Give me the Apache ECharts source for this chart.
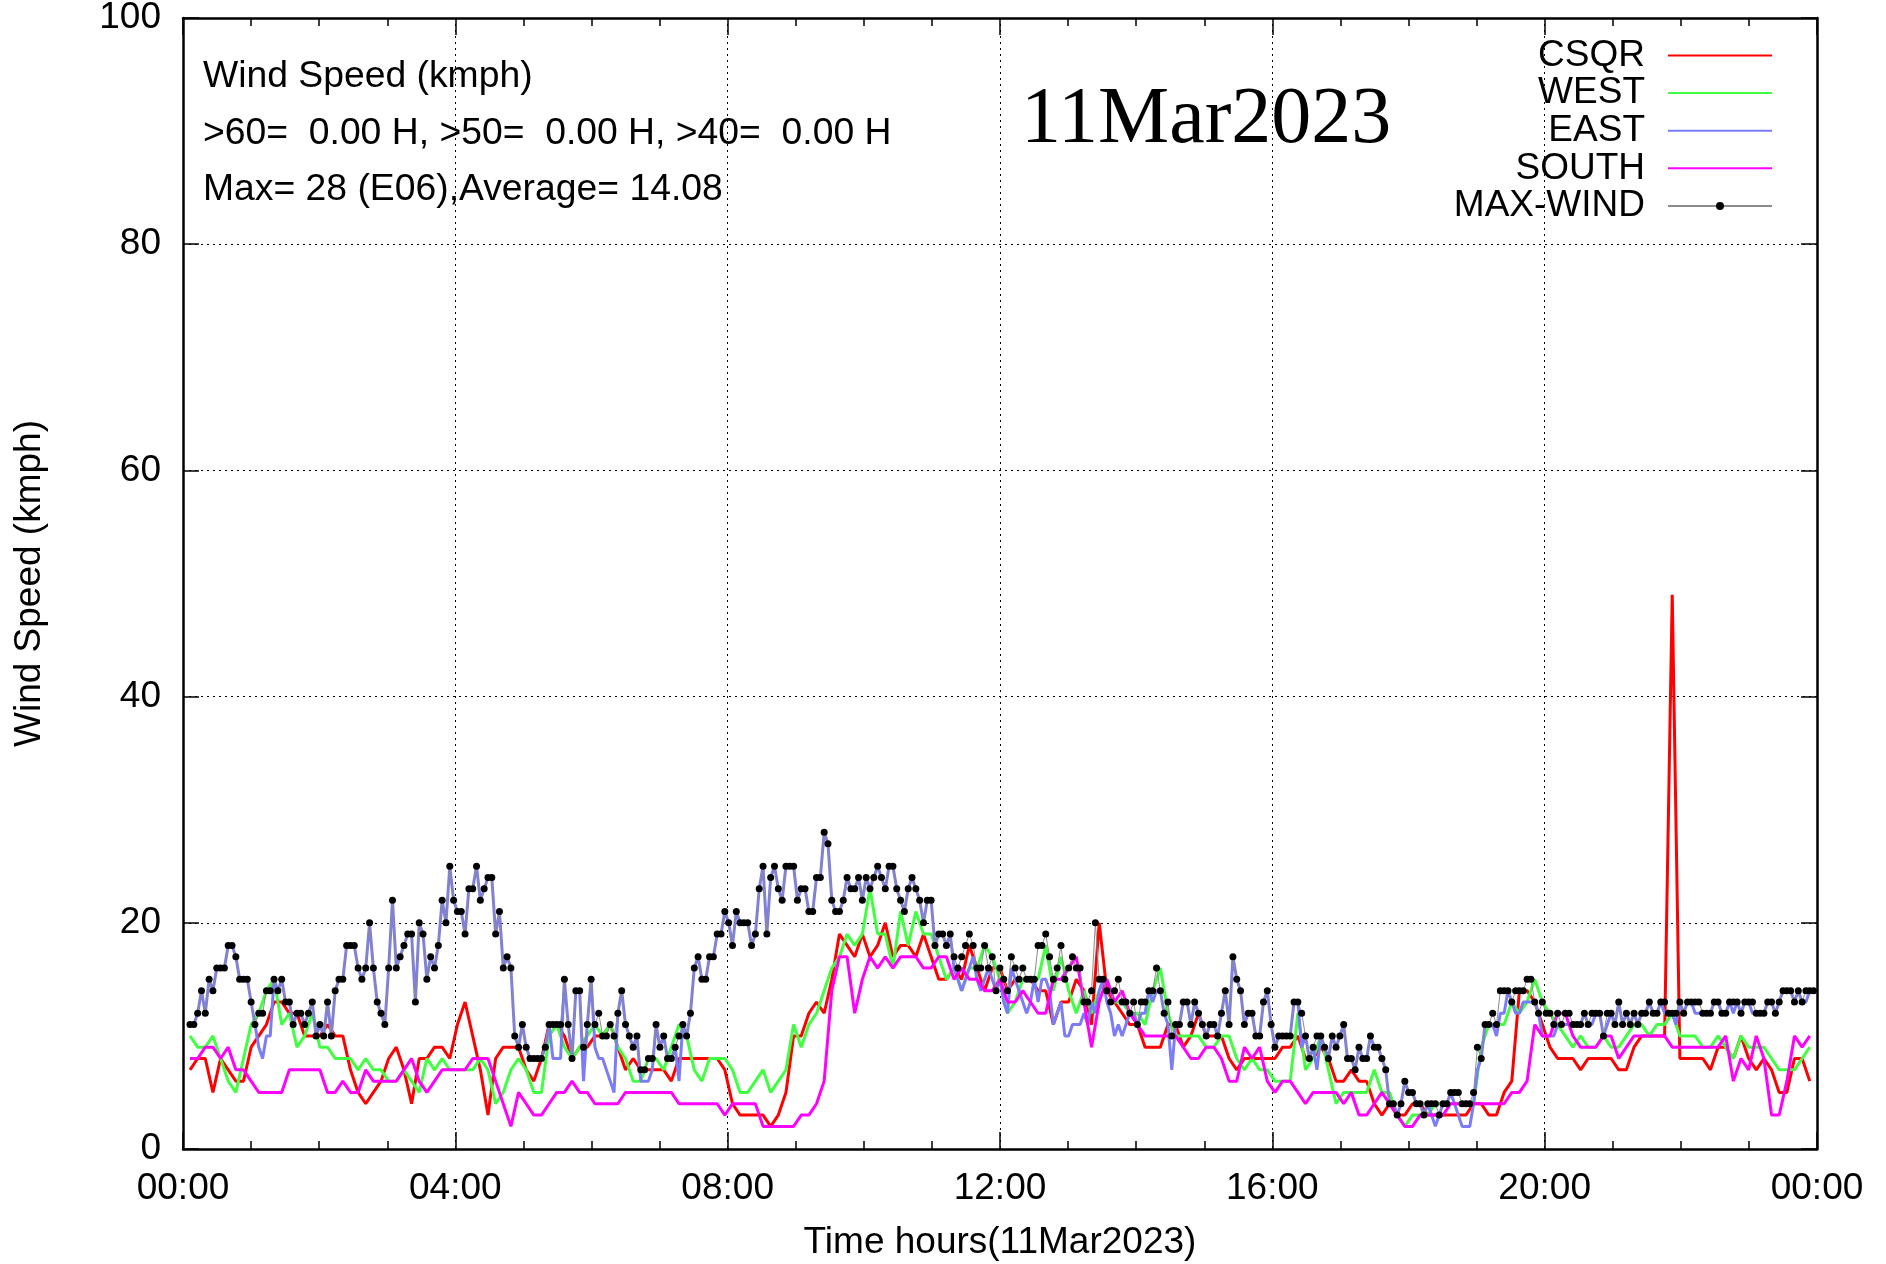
<!DOCTYPE html>
<html><head><meta charset="utf-8">
<script src="https://cdn.jsdelivr.net/npm/echarts@6/dist/echarts.min.js"></script>
<style>html,body{margin:0;padding:0;background:#fff}#chart{width:1886px;height:1264px}</style>
</head><body><div id="chart"></div>
<script>
// ---------- data ----------
const seriesNames = ['CSQR', 'WEST', 'EAST', 'SOUTH', 'MAX-WIND'];
const xTickLabels = ['00:00', '04:00', '08:00', '12:00', '16:00', '20:00', '00:00'];
const infoLines = [
  'Wind Speed (kmph)',
  '>60=  0.00 H, >50=  0.00 H, >40=  0.00 H',
  'Max= 28 (E06),Average= 14.08'
];
const dateTitle = '11Mar2023';
const xAxisName = 'Time hours(11Mar2023)';
const yAxisName = 'Wind Speed (kmph)';

// sampling of the readings (hours)
const startHour = 0.103;
const fineStepHour = 0.05611;   // MAX-WIND and EAST
const coarseStepHour = 0.11222; // CSQR, WEST, SOUTH

const maxWind = [
11,11,12,14,12,15,14,16,16,16, 18,18,17,15,15,15,13,11,12,12,
14,14,15,14,15,13,13,11,12,12, 11,12,13,10,11,10,13,10,14,15,
15,18,18,18,16,15,16,20,16,13, 12,11,16,22,16,17,18,19,19,13,
20,19,15,17,16,18,22,20,25,22, 21,21,19,23,23,25,22,23,24,24,
19,21,16,17,16,10,9,11,9,8, 8,8,8,9,11,11,11,11,15,11,
8,14,14,9,11,15,11,12,10,10, 11,10,12,14,11,10,9,10,7,7,
8,8,11,9,10,8,8,9,10,11, 10,12,16,17,15,15,17,17,19,19,
21,20,18,21,20,20,20,18,19,23, 25,19,24,25,23,22,25,25,25,22,
23,23,21,21,24,24,28,27,22,21, 21,22,24,23,23,24,22,24,23,24,
25,24,23,25,25,23,22,21,23,24, 23,22,20,22,22,18,19,19,18,19,
17,16,17,18,19,18,16,16,18,16, 17,14,16,15,14,17,16,15,16,15,
15,15,18,18,19,17,15,16,18,15, 16,17,16,16,13,13,14,20,15,15,
14,13,14,15,13,13,12,13,11,13, 13,14,14,16,14,12,13,10,11,11,
13,13,11,13,12,11,10,11,11,10, 12,14,11,17,15,14,11,12,12,10,
10,13,14,11,9,10,10,10,10,13, 13,12,10,8,9,10,10,9,8,10,
9,10,11,8,8,7,9,8,8,10, 9,9,8,7,4,4,3,4,6,5,
5,4,4,3,4,4,4,3,4,4, 5,5,5,4,4,4,5,9,8,11,
11,12,11,14,14,14,13,14,14,14, 15,15,13,12,13,12,12,11,12,11,
12,12,11,11,11,12,11,12,12,12, 10,12,12,11,13,11,12,11,12,11,
12,12,13,12,12,13,13,12,12,12, 13,12,13,13,13,13,12,12,12,13,
13,12,12,13,13,13,12,13,13,13, 12,12,12,13,13,12,13,14,14,14,
13,14,13,14,14,14
];

const east = [
11,11,12,14,12,15,14,16,16,16, 18,18,17,15,15,15,13,11,9,8,
10,10,15,14,15,13,13,11,12,12, 11,12,13,10,11,10,13,10,14,15,
15,18,18,18,16,15,16,20,16,13, 12,11,16,22,16,17,18,19,19,13,
20,19,15,17,16,18,22,20,25,22, 21,21,19,23,23,25,22,23,24,24,
19,21,16,17,16,10,9,11,9,8, 8,8,8,9,11,8,8,8,15,11,
8,14,14,6,11,15,9,8,8,7, 6,5,12,14,11,10,9,10,6,6,
6,7,11,9,10,8,8,9,6,11, 10,12,16,17,15,15,17,17,19,19,
21,20,18,21,20,20,20,18,19,23, 25,19,24,25,23,22,25,25,25,22,
23,23,21,21,24,24,28,27,22,21, 21,22,24,23,23,24,22,24,23,24,
25,24,23,25,25,23,22,21,23,24, 23,22,20,22,22,18,19,19,18,19,
16,15,14,15,16,17,15,14,15,16, 15,14,15,13,12,16,15,14,13,12,
13,15,13,15,15,14,11,12,13,10, 10,11,11,11,12,11,13,12,14,15,
13,12,10,11,10,11,12,12,11,12, 12,14,13,14,14,12,11,7,11,11,
13,13,11,13,12,11,10,11,11,10, 12,14,11,17,15,14,11,12,12,10,
10,13,14,11,9,10,10,10,10,13, 13,9,10,8,9,7,10,9,8,10,
9,10,11,8,8,7,9,8,8,10, 9,9,8,7,4,4,3,4,6,5,
5,4,4,3,4,3,2,3,4,4, 5,4,3,2,2,2,4,7,8,11,
11,11,10,12,12,14,13,12,12,13, 13,13,13,12,10,10,10,10,11,11,
11,11,11,11,11,12,11,11,12,12, 10,11,12,11,13,11,12,11,12,11,
12,12,13,12,12,13,12,12,12,11, 13,12,13,13,12,12,12,12,12,13,
13,12,12,13,12,13,12,13,13,12, 12,12,12,13,13,12,13,14,14,14,
13,14,13,13,14,14
];

const csqr = [
7,8,8,5,8,7,6,6,9,10, 11,13,13,12,12,10,10,10,11,10, 10,7,5,4,5,6,8,9,7,4, 8,8,9,9,8,11,13,
10,7,3,8,9,9,9,7,6,8, 11,11,10,8,9,9,10,10,11,9, 7,8,7,7,7,7,6,8,8,8, 8,8,8,7,4,3,
3,3,3,2,3,5,10,10,12,13, 12,15,19,18,17,19,17,18,20,17, 18,18,17,19,17,15,15,16,15,18, 16,14,16,16,14,15,
15,15,14,14,11,13,13,15,14,11, 20,14,13,12,11,11,9,9,9,11, 11,9,10,12,10,10,10,8,7,8, 8,8,8,8,9,
9,10,8,8,9,8,6,6,7,6, 6,4,3,4,3,3,4,4,3,3, 3,3,3,3,4,4,3,3,5,6, 14,14,13,11,9,8,
8,8,7,8,8,8,8,7,7,9, 10,10,10,10,49,8,8,8,8,7, 9,9,8,10,8,7,8,7,5,5, 8,8,6
];

const west = [
10,9,9,10,8,6,5,8,11,12, 14,15,11,12,9,10,12,9,9,8, 8,8,7,8,7,7,6,6,7,6, 5,8,7,8,7,7,7,
7,8,7,4,5,7,8,7,5,5, 10,11,9,8,9,10,11,10,11,9, 8,6,6,8,8,7,9,11,10,7, 6,8,8,8,7,5,
5,6,7,5,6,7,11,9,11,12, 14,16,17,19,18,19,23,19,19,16, 21,18,21,19,19,17,15,16,14,16, 16,18,17,15,12,13,
15,15,15,18,14,17,14,12,14,12, 14,15,13,13,12,12,11,14,16,12, 10,10,10,10,9,9,10,10,8,7, 8,7,7,6,6,
6,12,7,8,10,7,4,5,5,5, 5,7,5,5,3,2,3,3,3,4, 4,4,4,4,4,9,11,11,11,13, 12,13,15,13,12,11,
10,9,10,9,9,10,9,9,10,11, 11,10,11,11,12,10,10,10,9,9, 10,9,8,10,9,9,9,8,7,7, 7,8,9
];

const south = [
8,8,9,9,8,9,7,7,6,5, 5,5,5,7,7,7,7,7,5,5, 6,5,5,7,6,6,6,6,7,8, 6,5,6,7,7,7,7,
8,8,8,6,4,2,5,4,3,3, 4,5,5,6,5,5,4,4,4,4, 5,5,5,5,5,5,5,4,4,4, 4,4,4,3,4,4,
4,4,2,2,2,2,2,3,3,4, 6,14,17,17,12,15,17,16,17,16, 17,17,17,16,16,17,17,15,16,15, 15,14,14,15,13,13,
14,13,12,12,15,15,16,17,13,9, 13,15,13,14,12,11,10,10,10,10, 10,9,8,8,9,9,8,6,6,9, 8,9,6,5,6,
6,5,4,5,5,5,5,4,5,3, 3,4,5,4,3,2,2,3,3,3, 3,4,4,4,4,4,4,4,4,5, 5,6,11,10,10,12,
12,10,9,9,9,10,10,8,9,10, 10,10,10,10,9,9,9,9,9,9, 9,10,6,8,7,10,8,3,3,6, 10,9,10
];

// ---------- chart ----------
function toXY(values, step) {
  return values.map((v, i) => [startHour + i * step, v]);
}
const FONT = 'Liberation Sans';
const TXT = 37;

const baseX = {
  type: 'value', min: 0, max: 24, interval: 4,
  axisLine: { show: true, onZero: false, lineStyle: { color: '#000', width: 2.5 } },
  axisTick: { show: true, inside: true, length: 17, lineStyle: { color: '#000', width: 1.5 } },
  minorTick: { show: true, splitNumber: 4, length: 8, lineStyle: { color: '#000', width: 1.5 } },
  minorSplitLine: { show: false }
};
const baseY = {
  type: 'value', min: 0, max: 100, interval: 20,
  axisLine: { show: true, onZero: false, lineStyle: { color: '#000', width: 2.5 } },
  axisTick: { show: true, inside: true, length: 16, lineStyle: { color: '#000', width: 1.5 } }
};
const gridLine = { show: true, lineStyle: { color: '#000', width: 1, type: [2, 4] } };

const titleStyle = { fontSize: 37.3, fontFamily: FONT, fontWeight: 'normal', color: '#000', lineHeight: TXT };
const hideSymbol = { opacity: 0 };

const option = {
  backgroundColor: '#fff',
  animation: false,
  grid: { left: 183, right: 69, top: 18, bottom: 115, containLabel: false, outerBoundsMode: 'none' },
  title: [
    { text: infoLines[0], left: 203, top: 58, padding: 0, textStyle: titleStyle },
    { text: infoLines[1], left: 203, top: 115, padding: 0, textStyle: titleStyle },
    { text: infoLines[2], left: 203, top: 171, padding: 0, textStyle: titleStyle },
    { text: dateTitle, left: 1021, top: 81, padding: 0,
      textStyle: { fontSize: 80, fontFamily: 'Liberation Serif', fontWeight: 'normal', color: '#000', lineHeight: 80 } }
  ],
  legend: {
    data: [
      { name: 'CSQR', itemStyle: hideSymbol },
      { name: 'WEST', itemStyle: hideSymbol },
      { name: 'EAST', itemStyle: hideSymbol },
      { name: 'SOUTH', itemStyle: hideSymbol },
      { name: 'MAX-WIND' }
    ],
    orient: 'vertical', align: 'right',
    right: 113, top: 37, padding: 0,
    itemWidth: 104, itemHeight: 10, itemGap: 0.6,
    selectedMode: false,
    textStyle: { fontSize: TXT, fontFamily: FONT, color: '#000', lineHeight: TXT, padding: [0, 18, 0, 0] }
  },
  xAxis: [
    Object.assign({}, baseX, {
      position: 'bottom',
      splitLine: gridLine,
      axisLabel: { show: true, margin: 21, fontSize: TXT, fontFamily: FONT, color: '#000',
        formatter: v => xTickLabels[Math.round(v / 4)] },
      name: xAxisName, nameLocation: 'middle', nameGap: 75,
      nameTextStyle: { fontSize: TXT, fontFamily: FONT, color: '#000' }
    }),
    Object.assign({}, baseX, {
      position: 'top',
      splitLine: { show: false },
      axisLabel: { show: false }
    })
  ],
  yAxis: [
    Object.assign({}, baseY, {
      position: 'left',
      splitLine: gridLine,
      axisLabel: { show: true, margin: 22, fontSize: TXT, fontFamily: FONT, color: '#000' },
      name: yAxisName, nameLocation: 'middle', nameGap: 135, nameRotate: 90,
      nameTextStyle: { fontSize: TXT, fontFamily: FONT, color: '#000' }
    }),
    Object.assign({}, baseY, {
      position: 'right',
      splitLine: { show: false },
      axisLabel: { show: false }
    })
  ],
  series: [
    { name: 'CSQR', type: 'line', data: toXY(csqr, coarseStepHour), symbol: 'none',
      lineStyle: { color: '#ff0000', width: 3 }, itemStyle: { color: '#ff0000' } },
    { name: 'WEST', type: 'line', data: toXY(west, coarseStepHour), symbol: 'none',
      lineStyle: { color: '#40ff40', width: 3 }, itemStyle: { color: '#40ff40' } },
    { name: 'EAST', type: 'line', data: toXY(east, fineStepHour), symbol: 'none',
      lineStyle: { color: '#7c7cf8', width: 3 }, itemStyle: { color: '#7c7cf8' } },
    { name: 'SOUTH', type: 'line', data: toXY(south, coarseStepHour), symbol: 'none',
      lineStyle: { color: '#ff00ff', width: 3 }, itemStyle: { color: '#ff00ff' } },
    { name: 'MAX-WIND', type: 'line', data: toXY(maxWind, fineStepHour),
      symbol: 'circle', symbolSize: 7, showSymbol: true, showAllSymbol: true,
      lineStyle: { color: '#8c8c8c', width: 1 }, itemStyle: { color: '#000' } }
  ]
};

const chart = echarts.init(document.getElementById('chart'), null, { renderer: 'canvas' });
chart.setOption(option);
</script></body></html>
